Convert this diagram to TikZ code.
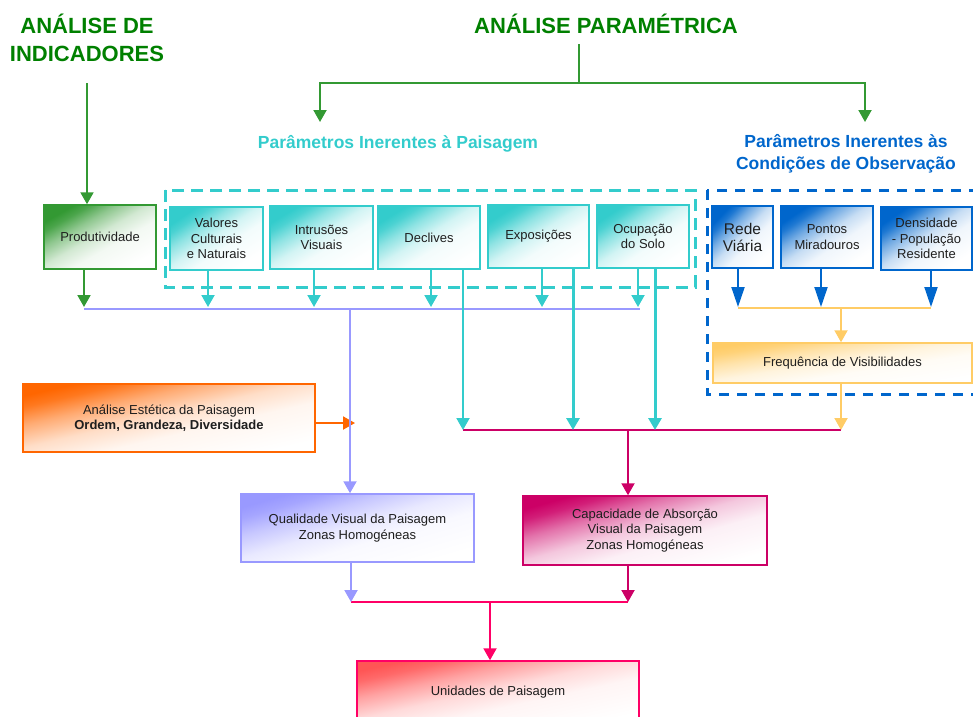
\documentclass[tikz,border=0pt]{standalone}
\usepackage{fontspec}
\setmainfont{Liberation Sans}
\usetikzlibrary{arrows.meta}

\definecolor{titlegreen}{RGB}{0,128,0}
\definecolor{lgreen}{RGB}{51,153,51}
\definecolor{lcyan}{RGB}{51,204,204}
\definecolor{lblue}{RGB}{0,102,204}
\definecolor{lpurple}{RGB}{153,153,255}
\definecolor{lmag}{RGB}{204,0,102}
\definecolor{lpink}{RGB}{255,0,102}
\definecolor{lyellow}{RGB}{255,204,102}
\definecolor{lorange}{RGB}{255,102,0}
\definecolor{lred}{RGB}{255,85,85}
\definecolor{ink}{RGB}{30,30,30}
\colorlet{fadecol}{lcyan}

% diagonal fade: strong colour in one corner, white in the opposite one
\pgfdeclareverticalshading[fadecol]{boxfade}{100bp}{%
  color(0bp)=(white); color(25bp)=(white); color(42bp)=(fadecol!6!white);
  color(52bp)=(fadecol!22!white); color(62bp)=(fadecol!55!white);
  color(70bp)=(fadecol!88!white); color(75bp)=(fadecol); color(100bp)=(fadecol)}

\begin{document}
\begin{tikzpicture}[x=1pt,y=-1pt,
  every node/.style={inner sep=2pt, align=center, text=ink},
  txt/.style={font=\fontsize{13}{15.5}\selectfont},
  bigtxt/.style={font=\fontsize{15.5}{17}\selectfont},
  title/.style={font=\fontsize{22}{28}\selectfont\bfseries, text=titlegreen},
  subtitle/.style={font=\fontsize{17.5}{22}\selectfont\bfseries},
  fbox/.style={draw=#1, line width=1.5pt, /utils/exec={\colorlet{fadecol}{#1}},
               shade, shading=boxfade, txt},
  sz/.code 2 args={\pgfmathsetmacro\fboxang{atan(#2/#1)}%
    \tikzset{minimum width=#1pt, minimum height=#2pt, shading angle/.expanded=\fboxang}},
  ln/.style={line width=2pt},
  arr/.style={line width=2pt, -{Triangle[length=12pt,width=13pt]}},
  barr/.style={line width=2pt, -{Triangle[length=20pt,width=13pt]}},
  frame/.style={line width=3pt, dash pattern=on 12pt off 7pt}
]
\useasboundingbox (0,0) rectangle (973,716);
\clip (0,0) rectangle (973,716);

% ---------- headings ----------
\node[title] (ind) at (87,38) {ANÁLISE DE\\INDICADORES};
\node[title, anchor=base] (par) at (606,33) {ANÁLISE PARAMÉTRICA};
\node[subtitle, text=lcyan, anchor=base] (pil) at (398,148) {Parâmetros Inerentes à Paisagem};
\node[subtitle, text=lblue] (pco) at (846,154) {Parâmetros Inerentes às\\Condições de Observação};

% ---------- group frames ----------
\draw[frame, lcyan] (165,190) rectangle (695,287);
\draw[frame, lblue, dash pattern=on 10pt off 8pt] (707,190) rectangle (990,394);

% ---------- boxes ----------
\node[fbox=lgreen, sz={112}{64}] (prod) at (100,237) {Produtividade};
\node[fbox=lcyan, sz={93}{63}] (val) at (216.5,238.5) {Valores\\Culturais\\e Naturais};
\node[fbox=lcyan, sz={103}{63}] (intr) at (321.5,237.5) {Intrusões\\Visuais};
\node[fbox=lcyan, sz={102}{63}] (decl) at (429,237.5) {Declives};
\node[fbox=lcyan, sz={101}{63}] (expo) at (538.5,236.5) {Exposições};
\node[fbox=lcyan, sz={92}{63}] (ocup) at (643,236.5) {Ocupação\\do Solo};
\node[fbox=lblue, bigtxt, sz={61}{62}] (rede) at (742.5,237) {Rede\\Viária};
\node[fbox=lblue, sz={92}{62}] (pont) at (827,237) {Pontos\\Miradouros};
\node[fbox=lblue, sz={91}{63}] (dens) at (926.5,238.5) {Densidade\\- População\\Residente};
\node[fbox=lyellow, sz={259}{40}] (freq) at (842.5,363) {Frequência de Visibilidades};
\node[fbox=lorange, sz={292}{68}] (aest) at (169,418) {Análise Estética da Paisagem\\\textbf{Ordem, Grandeza, Diversidade}};
\node[fbox=lpurple, sz={233}{68}] (qual) at (357.5,528) {Qualidade Visual da Paisagem\\Zonas Homogéneas};
\node[fbox=lmag, sz={244}{69}] (capa) at (645,530.5) {Capacidade de Absorção\\Visual da Paisagem\\Zonas Homogéneas};
\node[fbox=lred, draw=lpink, sz={282}{62}] (unid) at (498,692) {Unidades de Paisagem};

% ---------- junction points ----------
\coordinate (indFoot) at (87,83);
\coordinate (parFoot) at (579,44);
\coordinate (parJoin) at (579,83);
\coordinate (pilTip) at (320,122);
\coordinate (pcoTip) at (865,122);
\coordinate (tipRow) at (0,307);
\coordinate (busL) at (84,309);
\coordinate (busR) at (640,309);
\coordinate (ybusL) at (738,308);
\coordinate (ybusR) at (931,308);
\coordinate (magL) at (463,430);
\coordinate (magR) at (841,430);
\coordinate (aestTip) at (355,423);
\coordinate (pinkL) at (351,602);
\coordinate (pinkR) at (628,602);

% ---------- green heading connectors ----------
\draw[arr, lgreen] (indFoot) -- (indFoot |- prod.north);
\draw[ln, lgreen] (parFoot) -- (parJoin);
\draw[arr, lgreen] (parJoin) -| (pilTip);
\draw[arr, lgreen] (parJoin) -| (pcoTip);

% ---------- landscape parameters to the purple bus ----------
\draw[ln, lpurple] (busL) -- (busR);
\draw[arr, lgreen] ([xshift=-16pt]prod.south) -- ([xshift=-16pt]prod.south |- tipRow);
\draw[arr, lcyan] ([xshift=-8.5pt]val.south) -- ([xshift=-8.5pt]val.south |- tipRow);
\draw[arr, lcyan] ([xshift=-7.5pt]intr.south) -- ([xshift=-7.5pt]intr.south |- tipRow);
\draw[arr, lcyan] ([xshift=2pt]decl.south) -- ([xshift=2pt]decl.south |- tipRow);
\draw[arr, lcyan] ([xshift=3.5pt]expo.south) -- ([xshift=3.5pt]expo.south |- tipRow);
\draw[arr, lcyan] ([xshift=-5pt]ocup.south) -- ([xshift=-5pt]ocup.south |- tipRow);

% ---------- landscape parameters to the absorption bus ----------
\draw[ln, lmag] (magL) -- (magR);
\draw[arr, lcyan] ([xshift=34pt]decl.south) -- ([xshift=34pt]decl.south |- magL);
\draw[arr, lcyan, line width=3pt] ([xshift=34.5pt]expo.south) -- ([xshift=34.5pt]expo.south |- magL);
\draw[arr, lcyan, line width=3pt] ([xshift=12pt]ocup.south) -- ([xshift=12pt]ocup.south |- magL);

% ---------- observation conditions ----------
\draw[ln, lyellow] (ybusL) -- (ybusR);
\draw[barr, lblue] ([xshift=-4.5pt]rede.south) -- ([xshift=-4.5pt]rede.south |- tipRow);
\draw[barr, lblue] ([xshift=-6pt]pont.south) -- ([xshift=-6pt]pont.south |- tipRow);
\draw[barr, lblue] ([xshift=4.5pt]dens.south) -- ([xshift=4.5pt]dens.south |- tipRow);
\draw[arr, lyellow] ([xshift=-1.5pt]freq.north |- ybusL) -- ([xshift=-1.5pt]freq.north);
\draw[arr, lyellow] ([xshift=-1.5pt]freq.south) -- ([xshift=-1.5pt]freq.south |- magR);

% ---------- synthesis ----------
\draw[arr, lorange] ([yshift=-5pt]aest.east) -- (aestTip);
\draw[arr, lpurple] ([xshift=-7.5pt]qual.north |- busL) -- ([xshift=-7.5pt]qual.north);
\draw[arr, lmag] ([xshift=-17pt]capa.north |- magL) -- ([xshift=-17pt]capa.north);
\draw[ln, lpink] (pinkL) -- (pinkR);
\draw[arr, lpurple] ([xshift=-6.5pt]qual.south) -- ([xshift=-6.5pt]qual.south |- pinkL);
\draw[arr, lmag] ([xshift=-17pt]capa.south) -- ([xshift=-17pt]capa.south |- pinkR);
\draw[arr, lpink] ([xshift=-8pt]unid.north |- pinkL) -- ([xshift=-8pt]unid.north);
\end{tikzpicture}
\end{document}
